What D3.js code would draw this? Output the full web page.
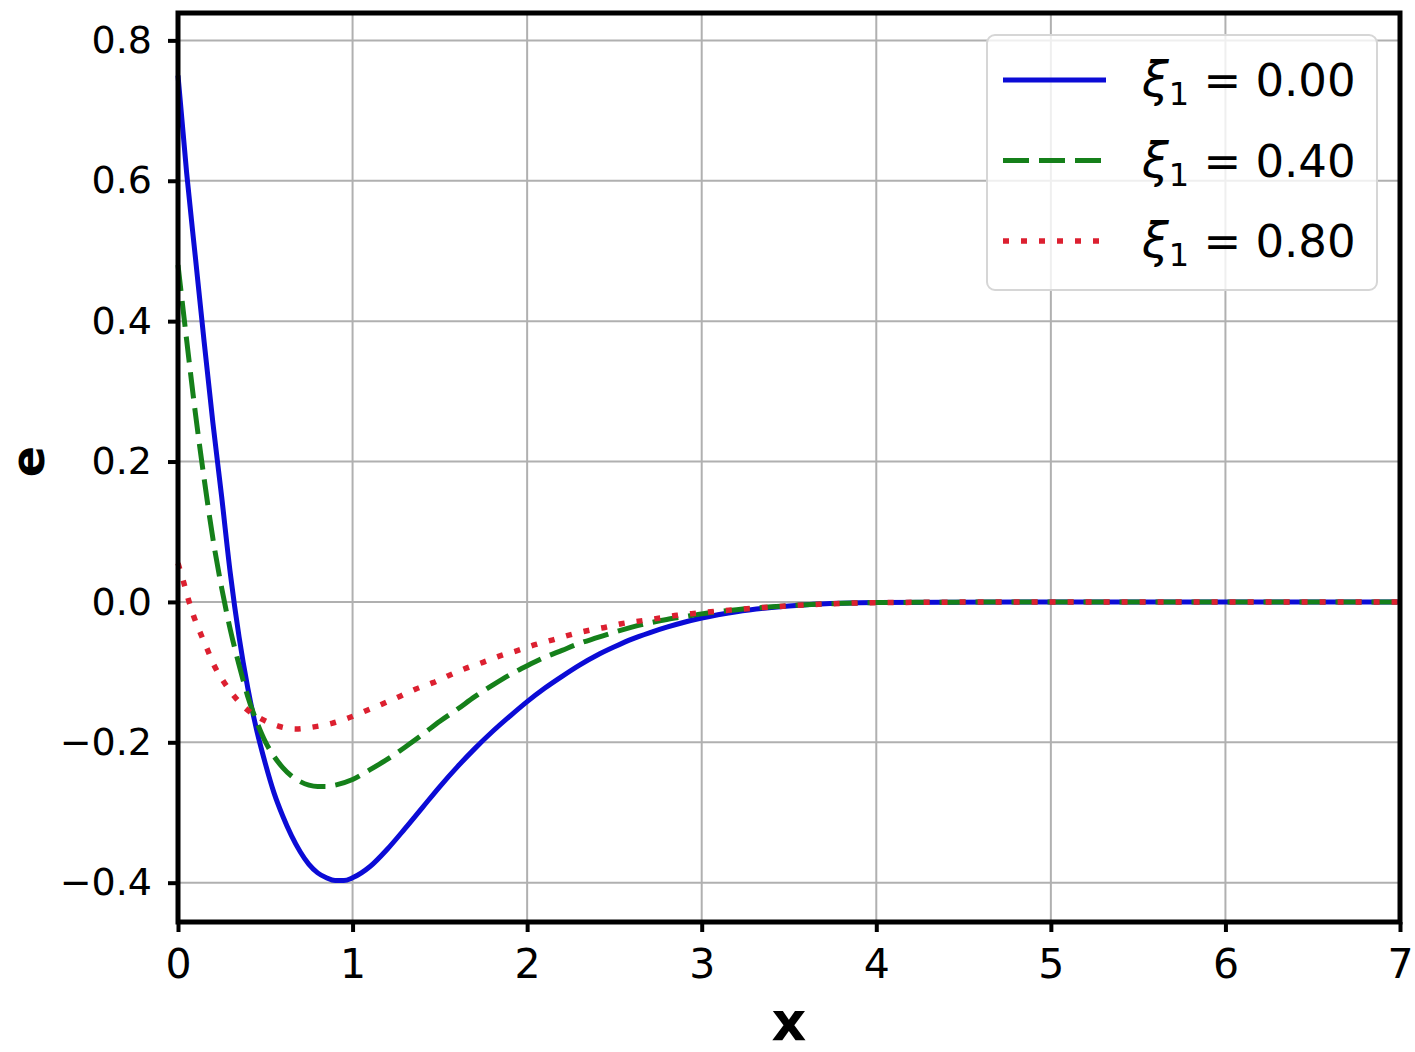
<!DOCTYPE html>
<meta charset="utf-8">
<script src="https://d3js.org/d3.v7.min.js"></script>
<style>
    body { margin: 0; background: #fff; }
    text { font-family: "DejaVu Sans", sans-serif; fill: #000; }
</style>
<div id="vis"></div>
<script>
    // data
    var labels = ["0.00", "0.40", "0.80"];

    var xBlue = [0, 0.05, 0.1, 0.15, 0.2, 0.25, 0.3, 0.35, 0.4, 0.45, 0.5, 0.55, 0.6, 0.65, 0.7, 0.75, 0.8, 0.85, 0.9, 0.95, 1.0, 1.1, 1.2, 1.3, 1.4, 1.5, 1.6, 1.7, 1.8, 1.9, 2.0, 2.1, 2.2, 2.3, 2.4, 2.5, 2.6, 2.7, 2.8, 2.9, 3.0, 3.2, 3.4, 3.6, 3.8, 4, 5, 6, 7];
    var yBlue = [0.75, 0.61, 0.49, 0.37, 0.255, 0.15, 0.04, -0.05, -0.123, -0.182, -0.23, -0.272, -0.305, -0.333, -0.356, -0.374, -0.386, -0.393, -0.397, -0.397, -0.393, -0.377, -0.352, -0.323, -0.293, -0.263, -0.235, -0.209, -0.185, -0.163, -0.142, -0.123, -0.106, -0.09, -0.076, -0.064, -0.053, -0.044, -0.036, -0.029, -0.023, -0.014, -0.008, -0.004, -0.002, -0.001, 0, 0, 0];

    var xGreen = [0, 0.05, 0.1, 0.15, 0.2, 0.25, 0.3, 0.35, 0.4, 0.45, 0.5, 0.55, 0.6, 0.65, 0.7, 0.75, 0.8, 0.85, 0.9, 1.0, 1.1, 1.2, 1.3, 1.4, 1.5, 1.6, 1.7, 1.8, 1.9, 2.0, 2.1, 2.2, 2.3, 2.4, 2.5, 2.6, 2.7, 2.8, 2.9, 3.0, 3.2, 3.4, 3.6, 3.8, 4, 5, 6, 7];
    var yGreen = [0.48, 0.372, 0.268, 0.175, 0.09, 0.02, -0.04, -0.09, -0.135, -0.17, -0.199, -0.22, -0.236, -0.248, -0.256, -0.261, -0.263, -0.263, -0.261, -0.253, -0.239, -0.224, -0.207, -0.189, -0.17, -0.153, -0.135, -0.119, -0.104, -0.091, -0.079, -0.069, -0.059, -0.051, -0.043, -0.036, -0.03, -0.025, -0.021, -0.017, -0.011, -0.007, -0.004, -0.002, -0.001, 0, 0, 0];

    var xRed = [0, 0.029, 0.059, 0.088, 0.126, 0.167, 0.208, 0.26, 0.321, 0.394, 0.48, 0.575, 0.675, 0.779, 0.881, 0.979, 1.077, 1.174, 1.266, 1.363, 1.461, 1.558, 1.655, 1.747, 1.844, 1.948, 2.045, 2.148, 2.245, 2.343, 2.45, 2.54, 2.65, 2.76, 2.86, 2.97, 3.35, 3.7, 4, 5, 6, 7];
    var yRed = [0.055, 0.031, 0.004, -0.019, -0.043, -0.067, -0.091, -0.113, -0.134, -0.153, -0.167, -0.177, -0.181, -0.178, -0.173, -0.165, -0.155, -0.145, -0.135, -0.124, -0.115, -0.104, -0.094, -0.086, -0.077, -0.069, -0.061, -0.054, -0.047, -0.041, -0.036, -0.031, -0.027, -0.023, -0.019, -0.016, -0.008, -0.003, -0.001, 0, 0, 0];

    var xTicks = [0, 1, 2, 3, 4, 5, 6, 7];
    var yTicks = [-0.4, -0.2, 0.0, 0.2, 0.4, 0.6, 0.8];

    // dimensions&&margins
    var W = 1415, H = 1052;
    var mgn = { top: 13, rgt: 15, btm: 130, lft: 178 },
        wid = W - mgn.lft - mgn.rgt,
        hgt = H - mgn.top - mgn.btm;

    var svg = d3.select("#vis")
        .append("svg")
        .attr("width", W)
        .attr("height", H);
    var g = svg.append("g")
        .attr("transform", "translate(" + mgn.lft + "," + mgn.top + ")");

    var x = d3.scaleLinear().domain([0, 7]).range([0, wid]);
    var y = d3.scaleLinear().domain([-0.456, 0.839]).range([hgt, 0]);

    // grid
    g.append("g").selectAll("line").data(xTicks).enter().append("line")
        .attr("x1", d => x(d)).attr("x2", d => x(d))
        .attr("y1", 0).attr("y2", hgt)
        .attr("stroke", "#b0b0b0").attr("stroke-width", 2);
    g.append("g").selectAll("line").data(yTicks).enter().append("line")
        .attr("y1", d => y(d)).attr("y2", d => y(d))
        .attr("x1", 0).attr("x2", wid)
        .attr("stroke", "#b0b0b0").attr("stroke-width", 2);

    // curves
    var series = [
        { xs: xBlue, ys: yBlue, color: "#0b0bd6", dash: null, w: 5 },
        { xs: xGreen, ys: yGreen, color: "#15801a", dash: "26,10", w: 5 },
        { xs: xRed, ys: yRed, color: "#dc2030", dash: "6,12", w: 5.5 }
    ];
    var line = d3.line()
        .x(d => x(d[0]))
        .y(d => y(d[1]))
        .curve(d3.curveMonotoneX);
    var plot = g.append("g");
    series.forEach(function (s) {
        plot.append("path")
            .datum(s.xs.map((v, i) => [v, s.ys[i]]))
            .attr("d", line)
            .attr("fill", "none")
            .attr("stroke", s.color)
            .attr("stroke-width", s.w)
            .attr("stroke-dasharray", s.dash)
            .attr("stroke-linejoin", "round");
    });

    // axes
    var xAxis = g.append("g")
        .attr("transform", "translate(0," + hgt + ")")
        .call(d3.axisBottom(x).tickValues(xTicks).tickSize(10).tickPadding(17).tickFormat(d3.format("d")));
    var yAxis = g.append("g")
        .call(d3.axisLeft(y).tickValues(yTicks).tickSize(10).tickPadding(16).tickFormat(d => d3.format(".1f")(d).replace("-", "\u2212")));
    [xAxis, yAxis].forEach(function (a) {
        a.select(".domain").remove();
        a.selectAll(".tick line").attr("stroke", "#000").attr("stroke-width", 4);
        a.selectAll(".tick text").style("font-family", "DejaVu Sans");
    });
    xAxis.selectAll(".tick text").style("font-size", "41px");
    yAxis.selectAll(".tick text").style("font-size", "38px");

    // frame
    g.append("rect")
        .attr("x", 0).attr("y", 0)
        .attr("width", wid).attr("height", hgt)
        .attr("fill", "none")
        .attr("stroke", "#000")
        .attr("stroke-width", 5);

    // axes labels
    svg.append("text")
        .attr("x", mgn.lft + x(3.5))
        .attr("y", 1040)
        .attr("text-anchor", "middle")
        .style("font-size", "54px")
        .style("font-weight", "bold")
        .text("x");
    svg.append("text")
        .attr("transform", "translate(44," + (mgn.top + y(0.2)) + ") rotate(-90)")
        .attr("text-anchor", "middle")
        .style("font-size", "46px")
        .style("font-weight", "bold")
        .text("e");

    // legend
    var lg = svg.append("g").attr("transform", "translate(987,35)");
    lg.append("rect")
        .attr("width", 390).attr("height", 255)
        .attr("rx", 8)
        .attr("fill", "#fff").attr("fill-opacity", 0.8)
        .attr("stroke", "#d6d6d6").attr("stroke-width", 2);
    series.forEach(function (s, i) {
        var yy = 45 + i * 80.5;
        lg.append("line")
            .attr("x1", 16).attr("x2", 119)
            .attr("y1", yy).attr("y2", yy)
            .attr("stroke", s.color)
            .attr("stroke-width", s.w)
            .attr("stroke-dasharray", s.dash);
        var t = lg.append("text")
            .attr("x", 155).attr("y", yy + 16)
            .style("font-size", "45px");
        t.append("tspan").style("font-style", "italic").style("font-size", "48px").text("\u03be");
        t.append("tspan").attr("dy", 9).style("font-size", "32px").text("1");
        t.append("tspan").attr("dy", -9).text(" = " + labels[i]);
    });
</script>
